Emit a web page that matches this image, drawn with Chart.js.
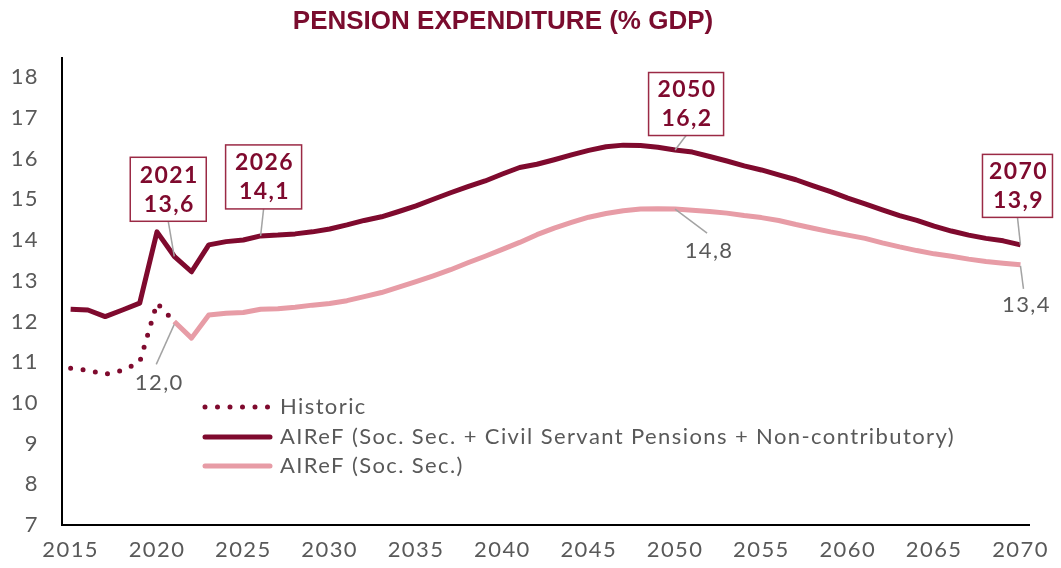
<!DOCTYPE html>
<html>
<head>
<meta charset="utf-8">
<script src="https://cdn.jsdelivr.net/npm/chart.js@4.4.0/dist/chart.umd.min.js"></script>
<style>
  html, body { margin: 0; padding: 0; background: #fff; }
</style>
</head>
<body>
<canvas id="chart" width="1061" height="568"></canvas>
<script>
"use strict";

// ---- data ----
const chartTitle = "PENSION EXPENDITURE (% GDP)";

const years = [
  2015, 2016, 2017, 2018, 2019, 2020, 2021, 2022, 2023, 2024,
  2025, 2026, 2027, 2028, 2029, 2030, 2031, 2032, 2033, 2034,
  2035, 2036, 2037, 2038, 2039, 2040, 2041, 2042, 2043, 2044,
  2045, 2046, 2047, 2048, 2049, 2050, 2051, 2052, 2053, 2054,
  2055, 2056, 2057, 2058, 2059, 2060, 2061, 2062, 2063, 2064,
  2065, 2066, 2067, 2068, 2069, 2070
];

const historic = [
  10.85, 10.8, 10.7, 10.8, 11.0, 12.45, 12.0, null, null, null,
  null, null, null, null, null, null, null, null, null, null,
  null, null, null, null, null, null, null, null, null, null,
  null, null, null, null, null, null, null, null, null, null,
  null, null, null, null, null, null, null, null, null, null,
  null, null, null, null, null, null
];

const totalPensions = [
  12.3, 12.28, 12.12, 12.28, 12.45, 14.2, 13.6, 13.22, 13.88, 13.96,
  14.0, 14.1, 14.12, 14.15, 14.2, 14.27, 14.37, 14.48, 14.57, 14.7,
  14.84, 15.0, 15.16, 15.31, 15.45, 15.62, 15.78, 15.86, 15.97, 16.09,
  16.2, 16.29, 16.33, 16.32, 16.28, 16.21, 16.16, 16.05, 15.94, 15.82,
  15.72, 15.6, 15.48, 15.33, 15.19, 15.03, 14.89, 14.74, 14.6, 14.48,
  14.34, 14.22, 14.12, 14.04, 13.98, 13.88
];

const socSec = [
  null, null, null, null, null, null, 12.0, 11.59, 12.16, 12.2,
  12.22, 12.3, 12.31, 12.35, 12.4, 12.44, 12.51, 12.61, 12.71, 12.84,
  12.98, 13.12, 13.27, 13.44, 13.6, 13.77, 13.94, 14.13, 14.29, 14.43,
  14.56, 14.65, 14.72, 14.76, 14.77, 14.76, 14.73, 14.7, 14.66, 14.6,
  14.55, 14.48, 14.38, 14.29, 14.2, 14.12, 14.04, 13.93, 13.83, 13.74,
  13.66, 13.6, 13.53, 13.47, 13.43, 13.39
];

const seriesNames = [
  "Historic",
  "AIReF (Soc. Sec. + Civil Servant Pensions + Non-contributory)",
  "AIReF (Soc. Sec.)"
];

const boxedYears = [2021, 2026, 2050, 2070];
const plainYears = [2021, 2050, 2070];

// ---- styling ----
const DARK = "#7f0a2e";
const PALE = "#e79ca6";
const TITLE_COLOR = "#7a0c2e";
const TEXT_GREY = "#595959";
const LEADER_GREY = "#a3a3a3";
const SPACING = "1.4px";
const TICK_FONT = { family: "Lato, 'Open Sans', sans-serif", size: 22 };

// callout placement relative to the anchored point: box centre offset and box size
const boxLayout = [
  { dx: -6, dy: -67, w: 76, h: 64 },
  { dx: 3, dy: -59, w: 76, h: 64 },
  { dx: 11, dy: -46, w: 75, h: 63 },
  { dx: -3, dy: -59, w: 70, h: 63 }
];
const plainLayout = [
  { dx: -15, dy: 61, lx: -3, ly: -18, ey: 3 },
  { dx: 34, dy: 42, lx: -2, ly: -18, ey: 0 },
  { dx: 6, dy: 40, lx: -3, ly: -16, ey: 1 }
];

function fmt(v) {
  return v.toFixed(1).replace(".", ",");
}

// wider letter spacing, like the humanist font of the original
const spacingPlugin = {
  id: "spacing",
  beforeLayout: function(chart) {
    chart.ctx.letterSpacing = SPACING;
  },
  beforeDraw: function(chart) {
    chart.ctx.letterSpacing = SPACING;
  }
};

const overlayPlugin = {
  id: "overlay",
  afterDraw: function(chart) {
    const ctx = chart.ctx;
    const xScale = chart.scales.x;
    const yScale = chart.scales.y;

    ctx.save();

    // title
    ctx.letterSpacing = "0px";
    ctx.font = "bold 26px 'Liberation Sans', Arial, sans-serif";
    ctx.fillStyle = TITLE_COLOR;
    ctx.textAlign = "center";
    ctx.textBaseline = "middle";
    ctx.fillText(chartTitle, 503, 22);
    ctx.letterSpacing = SPACING;

    // boxed callouts on the total series
    boxedYears.forEach(function(year, k) {
      const i = years.indexOf(year);
      const px = xScale.getPixelForValue(i);
      const py = yScale.getPixelForValue(totalPensions[i]);
      const b = boxLayout[k];
      const cx = px + b.dx;
      const cy = py + b.dy;

      ctx.strokeStyle = LEADER_GREY;
      ctx.lineWidth = 1.5;
      ctx.beginPath();
      ctx.moveTo(cx, cy + b.h / 2);
      ctx.lineTo(px, py);
      ctx.stroke();

      ctx.fillStyle = "#fff";
      ctx.fillRect(cx - b.w / 2, cy - b.h / 2, b.w, b.h);
      ctx.strokeStyle = "#9b2a45";
      ctx.lineWidth = 1.5;
      ctx.strokeRect(cx - b.w / 2, cy - b.h / 2, b.w, b.h);

      ctx.fillStyle = DARK;
      ctx.font = "bold 23px Lato, 'Open Sans', sans-serif";
      ctx.textAlign = "center";
      ctx.textBaseline = "middle";
      ctx.fillText(String(year), cx + 1, cy - 14);
      ctx.fillText(fmt(totalPensions[i]), cx + 1, cy + 15);
    });

    // plain callouts on the social security series
    plainYears.forEach(function(year, k) {
      const i = years.indexOf(year);
      const px = xScale.getPixelForValue(i);
      const py = yScale.getPixelForValue(socSec[i]);
      const p = plainLayout[k];
      const cx = px + p.dx;
      const cy = py + p.dy;

      ctx.strokeStyle = LEADER_GREY;
      ctx.lineWidth = 1.5;
      ctx.beginPath();
      ctx.moveTo(cx + p.lx, cy + p.ly);
      ctx.lineTo(px, py + p.ey);
      ctx.stroke();

      ctx.fillStyle = TEXT_GREY;
      ctx.font = "22px Lato, 'Open Sans', sans-serif";
      ctx.textAlign = "center";
      ctx.textBaseline = "middle";
      ctx.fillText(fmt(socSec[i]), cx, cy);
    });

    // legend
    const legendX = 202;
    const legendRows = [407, 437, 466];
    const datasets = chart.data.datasets;
    legendRows.forEach(function(ly, k) {
      const ds = datasets[k];
      ctx.strokeStyle = ds.borderColor;
      ctx.lineWidth = 5;
      ctx.lineCap = "round";
      ctx.setLineDash(ds.borderDash || []);
      ctx.beginPath();
      ctx.moveTo(legendX + 3, ly);
      ctx.lineTo(legendX + 68, ly);
      ctx.stroke();
      ctx.setLineDash([]);

      ctx.fillStyle = TEXT_GREY;
      ctx.font = "22px Lato, 'Open Sans', sans-serif";
      ctx.textAlign = "left";
      ctx.textBaseline = "middle";
      ctx.fillText(ds.label, legendX + 78, ly);
    });

    ctx.restore();
  }
};

new Chart(document.getElementById("chart"), {
  type: "line",
  data: {
    labels: years,
    datasets: [
      {
        label: seriesNames[0],
        data: historic,
        borderColor: DARK,
        borderWidth: 5,
        borderDash: [0, 12.5],
        borderCapStyle: "round",
        pointRadius: 0,
        tension: 0
      },
      {
        label: seriesNames[1],
        data: totalPensions,
        borderColor: DARK,
        borderWidth: 5,
        borderJoinStyle: "round",
        pointRadius: 0,
        tension: 0
      },
      {
        label: seriesNames[2],
        data: socSec,
        borderColor: PALE,
        borderWidth: 5,
        borderJoinStyle: "round",
        pointRadius: 0,
        tension: 0
      }
    ]
  },
  options: {
    responsive: false,
    animation: false,
    devicePixelRatio: 1,
    layout: {
      padding: { top: 58, right: 23, left: 0, bottom: 0 }
    },
    plugins: {
      legend: { display: false },
      title: { display: false },
      tooltip: { enabled: false }
    },
    scales: {
      x: {
        type: "category",
        offset: true,
        grid: { display: false, drawTicks: false },
        border: { color: "#000", width: 2 },
        ticks: {
          color: TEXT_GREY,
          font: TICK_FONT,
          autoSkip: false,
          maxRotation: 0,
          padding: 12,
          callback: function(value, index) {
            const year = years[index];
            return year % 5 === 0 ? String(year) : "";
          }
        },
        afterFit: function(scale) {
          scale.height = 43;
        }
      },
      y: {
        min: 7,
        max: 18.47,
        grid: { display: false, drawTicks: false },
        border: { color: "#000", width: 2 },
        ticks: {
          stepSize: 1,
          includeBounds: false,
          color: TEXT_GREY,
          font: TICK_FONT,
          padding: 23
        },
        afterFit: function(scale) {
          scale.width = 62;
        }
      }
    }
  },
  plugins: [spacingPlugin, overlayPlugin]
});
</script>
</body>
</html>
